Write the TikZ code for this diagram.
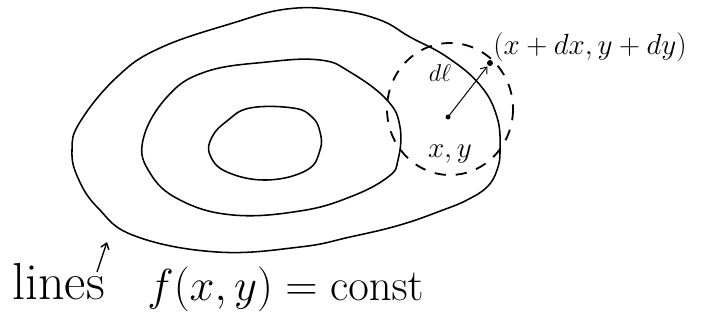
\documentclass[tikz,border=0pt]{standalone}
\usetikzlibrary{arrows.meta}
\begin{document}
\begin{tikzpicture}[x=0.025cm, y=-0.025cm, >={Straight Barb[length=4pt,width=6pt]},
  level/.style={line width=1.1pt, line join=round},
  chalk/.style={inner sep=0pt}]

\useasboundingbox (0,0) rectangle (702,327);

% three level lines f(x,y) = const
\draw[level] plot[smooth cycle, tension=0.7] coordinates {(337,10) (380,20) (410,37) (447,57) (480,85) (497,117) (500,150) (497,170) (487,187) (467,200) (443,210) (400,225) (350,237) (300,247) (217,252) (135,236) (98,208) (78,178) (72,150) (80,122) (117,77) (160,48) (233,23) (287,9)};
\draw[level] plot[smooth cycle, tension=0.7] coordinates {(320,60) (350,72) (387,100) (400,127) (398,160) (388,177) (350,197) (300,211) (233,215) (180,200) (150,173) (143,140) (167,97) (205,72) (267,62)};
\draw[level] plot[smooth cycle, tension=0.7] coordinates {(250,108) (293,108) (312,117) (320,132) (320,150) (307,170) (267,180) (227,172) (210,155) (212,137) (227,121)};

% neighbourhood of the point
\draw[level, line width=1.3pt, dash pattern=on 8pt off 7pt] (450,109) ellipse [x radius=63, y radius=66];

\coordinate (xy) at (448,117);
\coordinate (xdy) at (490,63);
\fill (xy) circle (2.5);
\fill (xdy) circle (3);
\draw[->, line width=0.7pt, shorten >=3pt] (xy) -- (xdy);

\node[chalk, anchor=base west, font=\fontsize{20}{24}\selectfont] (endpt) at (493,55) {$(x+dx,y+dy)$};
\node[chalk, anchor=base, font=\fontsize{16}{19}\selectfont] (dl) at (440,82) {$d\ell$};
\node[chalk, anchor=base, font=\fontsize{20}{24}\selectfont] (pt) at (450,158) {$x,y$};

% caption
\node[chalk, anchor=base west, font=\fontsize{37}{42}\selectfont] (lines) at (12,299) {lines};
\node[chalk, anchor=base west, scale=1.28, font=\fontsize{24.88}{30}\selectfont] (eq) at (147,300) {$f(x,y)=\mathrm{const}$};

\coordinate (tail) at (97,272);
\coordinate (tip) at (107,242);
\draw[->, line width=1pt] (tail) -- (tip);

\end{tikzpicture}
\end{document}
